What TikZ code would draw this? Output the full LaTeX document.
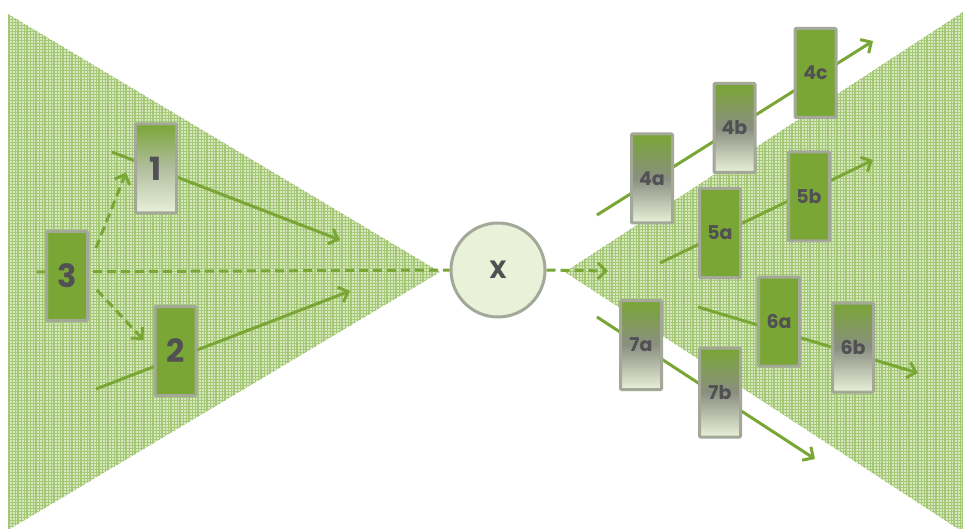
\documentclass[tikz,border=0pt]{standalone}
\usepackage{fontspec}
\setmainfont{Poppins}
\usetikzlibrary{arrows.meta,patterns}

\definecolor{leaf}{RGB}{121,166,53}
\definecolor{mesh}{RGB}{216,232,192}
\definecolor{meshline}{RGB}{165,200,118}
\definecolor{rim}{RGB}{163,168,152}
\definecolor{pale}{RGB}{233,241,217}
\definecolor{fog}{RGB}{138,143,128}
\definecolor{sage}{RGB}{178,190,160}
\definecolor{ink}{RGB}{80,80,85}

\begin{document}
\begin{tikzpicture}[x=1pt,y=-1pt,
    box/.style={draw=rim,line width=3pt,rounded corners=1pt,minimum width=41pt,minimum height=89pt,inner sep=0pt,text=ink,font=\bfseries\fontsize{19}{19}\selectfont},
    solidbox/.style={box,fill=leaf},
    fadebox/.style={box,top color=leaf,bottom color=pale,middle color=fog},
    big/.style={font=\bfseries\fontsize{32}{32}\selectfont},
    flow/.style={leaf,line width=3pt,-{Straight Barb[length=8pt,width=16pt]}},
    hop/.style={leaf,line width=3pt,dash pattern=on 9pt off 5pt}]
    \useasboundingbox (0,0) rectangle (963,529);
    \fill[mesh] (8,14) -- (440,272) -- (8,530) -- cycle;
    \fill[pattern=grid,pattern color=meshline] (8,14) -- (440,272) -- (8,530) -- cycle;
    \begin{scope}
        \clip (8,14) -- (440,272) -- (8,530) -- cycle;
        \draw[meshline,line width=1.2pt,step=9] (0,0) grid (450,540);
    \end{scope}
    \fill[mesh] (565,272) -- (963,12) -- (963,532) -- cycle;
    \fill[pattern=grid,pattern color=meshline] (565,272) -- (963,12) -- (963,532) -- cycle;
    \begin{scope}
        \clip (565,272) -- (963,12) -- (963,532) -- cycle;
        \draw[meshline,line width=1.2pt,step=9] (558,0) grid (972,540);
    \end{scope}
    \node[circle,draw=rim,fill=pale,line width=3pt,minimum size=94pt,text=ink,font=\bfseries\fontsize{25}{25}\selectfont] (x) at (498,270) {X};
    \coordinate (in1) at (112,152);
    \coordinate (out1) at (340,240);
    \coordinate (in2) at (96,389);
    \coordinate (out2) at (350,291);
    \coordinate (in3) at (37,272);
    \coordinate (out4) at (873,41);
    \coordinate (in4) at (597,215);
    \coordinate (in5) at (660,263);
    \coordinate (out5) at (873,160);
    \coordinate (in6) at (698,307);
    \coordinate (out6) at (918,373);
    \coordinate (in7) at (597,317);
    \coordinate (out7) at (815,459);
    \coordinate (outx) at (608,271);
    \draw[flow] (in1) -- (out1);
    \draw[flow] (in2) -- (out2);
    \draw[hop] (in3) -- (x.west);
    \draw[hop,-{Straight Barb[length=8pt,width=16pt]}] (x.east) -- (outx);
    \draw[flow] (in4) -- (out4);
    \draw[flow] (in5) -- (out5);
    \draw[flow] (in6) -- (out6);
    \draw[flow] (in7) -- (out7);
    \node[fadebox,big,middle color=sage] (b1) at (156,168.5) {1};
    \node[solidbox,big] (b3) at (67,276) {3};
    \node[solidbox,big] (b2) at (175.5,351) {2};
    \node[fadebox] (b4a) at (652,178.5) {4a};
    \node[fadebox] (b4b) at (734.5,128) {4b};
    \node[solidbox] (b4c) at (815.5,73) {4c};
    \node[solidbox] (b5a) at (720,233) {5a};
    \node[solidbox] (b5b) at (809,196.5) {5b};
    \node[solidbox] (b6a) at (779,321.5) {6a};
    \node[fadebox] (b6b) at (853,347.5) {6b};
    \node[fadebox] (b7a) at (641,345) {7a};
    \node[fadebox] (b7b) at (720,392.5) {7b};
    \draw[hop,-{Straight Barb[length=8pt,width=16pt]}] ([shift={(7,-28)}]b3.east) -- ([shift={(-8,4)}]b1.west);
    \draw[hop,-{Straight Barb[length=8pt,width=16pt]}] ([shift={(8,14)}]b3.east) -- ([shift={(-10,-11)}]b2.west);
\end{tikzpicture}
\end{document}
